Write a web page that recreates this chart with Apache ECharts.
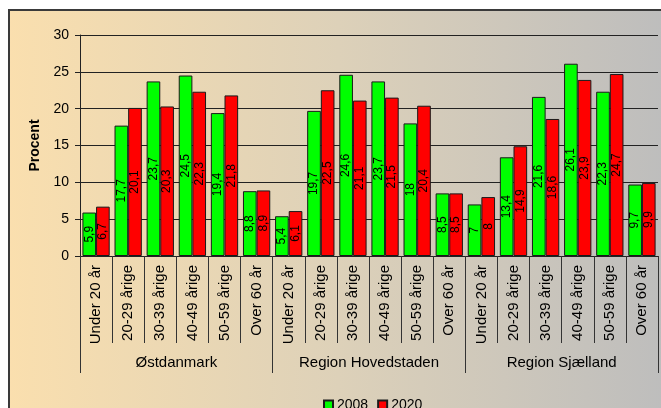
<!DOCTYPE html>
<html>
<head>
<meta charset="utf-8">
<script src="https://cdn.jsdelivr.net/npm/echarts@6/dist/echarts.min.js"></script>
<style>
  html, body { margin: 0; padding: 0; background: #fff; }
  #chart { width: 661px; height: 408px; }
</style>
</head>
<body>
<div id="chart"></div>
<script>
const ageGroups = ["Under 20 år", "20-29 årige", "30-39 årige", "40-49 årige", "50-59 årige", "Over 60 år"];
const regions = ["Østdanmark", "Region Hovedstaden", "Region Sjælland"];

const values2008 = [
  5.9, 17.7, 23.7, 24.5, 19.4, 8.8,
  5.4, 19.7, 24.6, 23.7, 18, 8.5,
  7, 13.4, 21.6, 26.1, 22.3, 9.7,
];
const values2020 = [
  6.7, 20.1, 20.3, 22.3, 21.8, 8.9,
  6.1, 22.5, 21.1, 21.5, 20.4, 8.5,
  8, 14.9, 18.6, 23.9, 24.7, 9.9,
];
const yTicks = { min: 0, max: 30, interval: 5 };

const categories = regions.flatMap(() => ageGroups);
const FONT = "'Liberation Sans', Arial, sans-serif";

function commaLabel(params) {
  return String(params.value).replace(".", ",");
}

function barSeries(name, color, data) {
  return {
    name,
    type: "bar",
    xAxisIndex: 0,
    barGap: 0,
    barCategoryGap: "15%",
    itemStyle: { color, borderColor: "#1a1a1a", borderWidth: 1 },
    label: {
      show: true,
      position: "inside",
      rotate: 90,
      formatter: commaLabel,
      color: "#000",
      fontSize: 12,
      fontFamily: FONT,
    },
    data,
  };
}

const chart = echarts.init(document.getElementById("chart"), null, { renderer: "canvas" });

chart.setOption({
  animation: false,
  backgroundColor: "#fff",
  textStyle: { fontFamily: FONT },
  graphic: [
    {
      type: "rect",
      z: -10,
      silent: true,
      shape: { x: 9, y: 10, width: 660, height: 410 },
      style: {
        fill: new echarts.graphic.LinearGradient(0, 0, 1, 0, [
          { offset: 0, color: "#fadfae" },
          { offset: 0.5, color: "#ddd1b9" },
          { offset: 1, color: "#bdbdbd" },
        ]),
        stroke: "#3a3a3a",
        lineWidth: 2,
      },
    },
  ],
  grid: { left: 80, top: 35, right: 3, bottom: 152 },
  legend: {
    data: ["2008", "2020"],
    left: 318,
    top: 393,
    itemWidth: 9,
    itemHeight: 9,
    itemGap: 9,
    icon: "rect",
    textStyle: { fontSize: 14, color: "#000", fontFamily: FONT, padding: [0, 0, 0, -1] },
  },
  xAxis: [
    {
      type: "category",
      data: categories,
      axisLine: { lineStyle: { color: "#222", width: 1 } },
      axisTick: { show: true, interval: 0, length: 87, lineStyle: { color: "#333" } },
      axisLabel: {
        interval: 0,
        rotate: 90,
        margin: 9,
        fontSize: 15,
        color: "#000",
        fontFamily: FONT,
      },
    },
    {
      type: "category",
      data: regions,
      position: "bottom",
      offset: 87,
      axisLine: { show: false },
      axisTick: { show: true, interval: 0, length: 30, lineStyle: { color: "#333" } },
      axisLabel: {
        interval: 0,
        margin: 12,
        fontSize: 15,
        color: "#000",
        fontFamily: FONT,
      },
    },
  ],
  yAxis: {
    type: "value",
    min: yTicks.min,
    max: yTicks.max,
    interval: yTicks.interval,
    name: "Procent",
    nameLocation: "middle",
    nameGap: 36,
    nameRotate: 90,
    nameTextStyle: { fontSize: 14, fontWeight: "bold", color: "#000", fontFamily: FONT },
    axisLine: { show: true, lineStyle: { color: "#222" } },
    axisTick: { show: true, length: 5, lineStyle: { color: "#222" } },
    axisLabel: { fontSize: 14, color: "#000", margin: 11, fontFamily: FONT },
    splitLine: { lineStyle: { color: "#222", width: 1 } },
  },
  series: [
    barSeries("2008", "#00ff00", values2008),
    barSeries("2020", "#ff0000", values2020),
  ],
});
</script>
</body>
</html>
